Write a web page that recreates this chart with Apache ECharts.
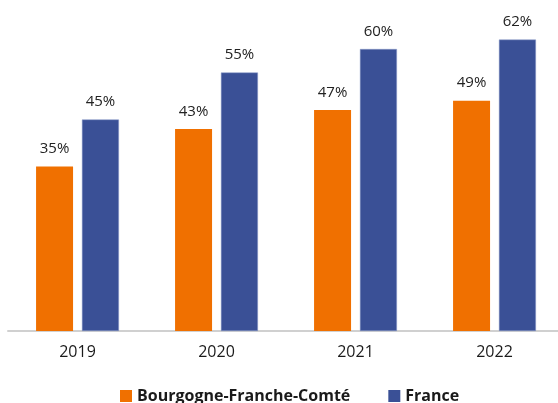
<!DOCTYPE html>
<html>
<head>
<meta charset="utf-8">
<script src="https://cdn.jsdelivr.net/npm/echarts@6/dist/echarts.min.js"></script>
<style>
  html, body { margin: 0; padding: 0; background: #fff; }
  #chart { width: 558px; height: 403px; }
</style>
</head>
<body>
<div id="chart"></div>
<script>
const years = ['2019', '2020', '2021', '2022']
const bfcValues = [35, 43, 47, 49]
const franceValues = [45, 55, 60, 62]

const chart = echarts.init(document.getElementById('chart'))

const labelStyle = {
  show: true,
  position: 'top',
  distance: 10,
  formatter: '{c}%',
  color: '#222',
  fontSize: 15,
  fontFamily: 'Open Sans'
}

chart.setOption({
  animation: false,
  grid: { left: 8, right: -6, top: 2, bottom: 72, outerBoundsMode: 'none', containLabel: false },
  legend: {
    top: 383,
    left: 115,
    itemWidth: 12,
    itemHeight: 12,
    itemGap: 38,
    icon: 'rect',
    itemStyle: { borderWidth: 0 },
    textStyle: { fontSize: 16, fontWeight: 'bold', color: '#1a1a1a', fontFamily: 'Open Sans' }
  },
  xAxis: {
    type: 'category',
    data: years,
    axisLine: { lineStyle: { color: '#d0d0d0', width: 2 } },
    axisTick: { show: false },
    axisLabel: { color: '#1a1a1a', fontSize: 16, margin: 13, fontFamily: 'Open Sans' }
  },
  yAxis: {
    type: 'value',
    min: 0,
    max: 70,
    show: false
  },
  series: [
    {
      name: 'Bourgogne-Franche-Comté',
      type: 'bar',
      data: bfcValues,
      barWidth: 37,
      barGap: '24%',
      itemStyle: { color: '#f07000' },
      label: labelStyle
    },
    {
      name: 'France',
      type: 'bar',
      data: franceValues,
      barWidth: 37,
      itemStyle: { color: '#3a5096', borderColor: '#8b9bc8', borderWidth: 0.5 },
      label: labelStyle
    }
  ]
})
</script>
</body>
</html>
